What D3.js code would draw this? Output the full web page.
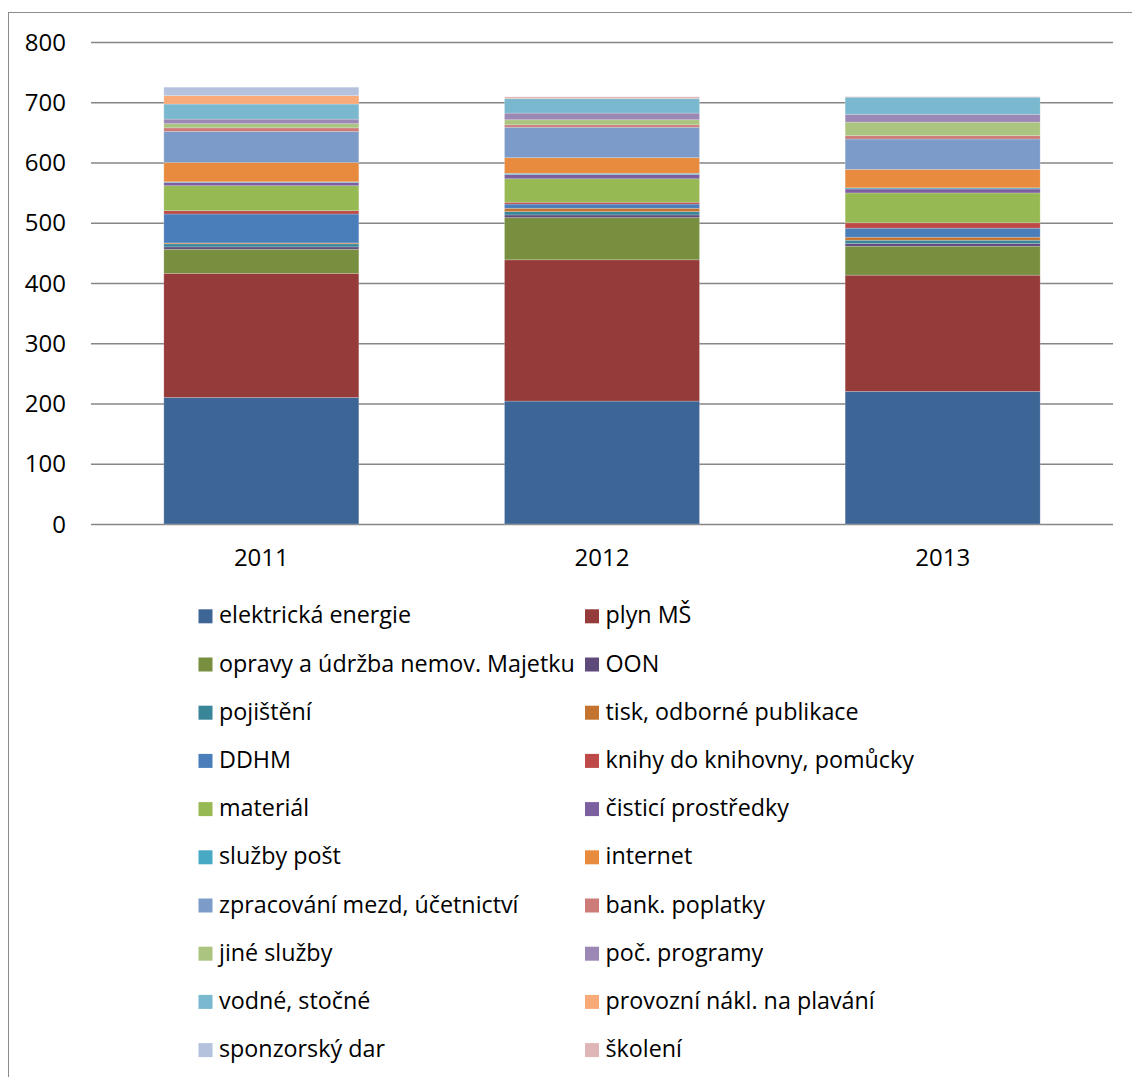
<!DOCTYPE html>
<html>
<head>
<meta charset="utf-8">
<script src="https://cdnjs.cloudflare.com/ajax/libs/d3/7.8.5/d3.min.js"></script>
<style>
  body { margin: 0; background: #fff; }
  text { font-family: "Open Sans", sans-serif; fill: #000; }
</style>
</head>
<body>
<div id="chart"></div>
<script>

var years = ["2011", "2012", "2013"];

var seriesNames = [
  "elektrická energie", "plyn MŠ",
  "opravy a údržba nemov. Majetku", "OON",
  "pojištění", "tisk, odborné publikace",
  "DDHM", "knihy do knihovny, pomůcky",
  "materiál", "čisticí prostředky",
  "služby pošt", "internet",
  "zpracování mezd, účetnictví", "bank. poplatky",
  "jiné služby", "poč. programy",
  "vodné, stočné", "provozní nákl. na plavání",
  "sponzorský dar", "školení"
];

// one value per series, same order as seriesNames
var values2011 = [210, 206, 40, 4, 5, 1.5, 48, 5.5, 41.5, 5.5, 1, 32, 51.5, 6, 7, 7.5, 25, 14, 14, 0];
var values2012 = [204, 234.5, 70, 4.5, 5.5, 5.5, 7, 3, 39, 7, 2, 26, 50.5, 4, 8.5, 11, 24, 0, 0, 3];
var values2013 = [220, 193, 48, 4.5, 5.5, 5, 15, 9, 49.5, 6.5, 2, 30.5, 50.5, 5.5, 22.5, 13, 28.5, 0, 0, 0.8];

var yTicks = [0, 100, 200, 300, 400, 500, 600, 700, 800];

var colors = [
  "#3d6596", "#953b3a", "#778f3f", "#5f4a7c",
  "#388698", "#c4732f", "#4a7ebb", "#bd4a47",
  "#97b954", "#7b5f9f", "#47a9c4", "#e88b3e",
  "#7d9bc8", "#cc7b79", "#abc580", "#9b88b4",
  "#79b8ce", "#f8aa79", "#b4c2de", "#dfb6b5"
];

var allValues = [values2011, values2012, values2013];
var data = years.map(function(y, i) {
  var row = { year: y };
  seriesNames.forEach(function(s, j) { row[s] = allValues[i][j]; });
  return row;
});

var width = 1132, height = 1077;
var plotLeft = 91, plotRight = 1113, plotTop = 42, plotBottom = 524;

var svg = d3.select("#chart").append("svg")
  .attr("width", width)
  .attr("height", height);

// chart frame (runs off the right and bottom edges)
svg.append("rect")
  .attr("x", 8.5).attr("y", 12.5)
  .attr("width", 1300).attr("height", 1300)
  .attr("fill", "none")
  .attr("stroke", "#8c8c8c")
  .attr("stroke-width", 1);

var x = d3.scaleBand()
  .domain(years)
  .range([plotLeft, plotRight])
  .paddingInner(0.4276)
  .paddingOuter(0.2138);

var y = d3.scaleLinear()
  .domain([0, 800])
  .range([plotBottom, plotTop]);

var color = d3.scaleOrdinal().domain(seriesNames).range(colors);

// gridlines
svg.append("g")
  .selectAll("line")
  .data(yTicks)
  .enter()
  .append("line")
  .attr("x1", plotLeft)
  .attr("x2", plotRight)
  .attr("y1", function(d) { return y(d) + 0.5; })
  .attr("y2", function(d) { return y(d) + 0.5; })
  .attr("stroke", "#868686")
  .attr("stroke-width", 1.3);

// y labels
svg.append("g")
  .selectAll("text")
  .data(yTicks)
  .enter()
  .append("text")
  .attr("x", 66)
  .attr("y", function(d) { return y(d) + 8.7; })
  .attr("text-anchor", "end")
  .style("font-size", "24px")
  .text(function(d) { return d; });

// stacked bars
var stack = d3.stack().keys(seriesNames);
var layers = stack(data);

svg.append("g")
  .selectAll("g")
  .data(layers)
  .enter()
  .append("g")
  .attr("fill", function(d) { return color(d.key); })
  .selectAll("rect")
  .data(function(d) { return d; })
  .enter()
  .append("rect")
  .attr("x", function(d) { return x(d.data.year); })
  .attr("width", x.bandwidth())
  .attr("y", function(d) { return y(d[1]); })
  .attr("height", function(d) { return y(d[0]) - y(d[1]); })
  .attr("stroke", "#ffffff")
  .attr("stroke-opacity", 0.25)
  .attr("stroke-width", 0.8);

// x labels
svg.append("g")
  .selectAll("text")
  .data(years)
  .enter()
  .append("text")
  .attr("x", function(d) { return x(d) + x.bandwidth() / 2; })
  .attr("y", 566)
  .attr("text-anchor", "middle")
  .style("font-size", "24px")
  .text(function(d) { return d; });

// legend, two columns, filled row by row
var legend = svg.append("g")
  .selectAll("g")
  .data(seriesNames)
  .enter()
  .append("g")
  .attr("transform", function(d, i) {
    var col = i % 2, row = Math.floor(i / 2);
    return "translate(" + (col === 0 ? 198.5 : 585) + "," + (609.3 + row * 48.2) + ")";
  });

legend.append("rect")
  .attr("width", 14)
  .attr("height", 14)
  .attr("fill", function(d) { return color(d); });

legend.append("text")
  .attr("x", 20.5)
  .attr("y", 14)
  .style("font-size", "23.3px")
  .text(function(d) { return d; });

</script>
</body>
</html>
